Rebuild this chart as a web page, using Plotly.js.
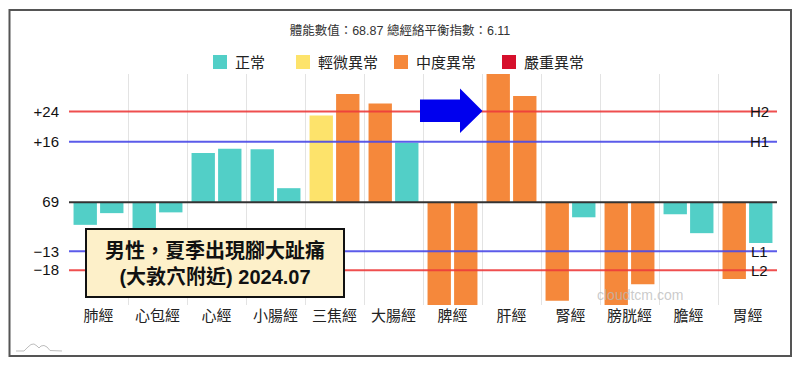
<!DOCTYPE html>
<html>
<head>
<meta charset="utf-8">
<script src="https://cdn.plot.ly/plotly-3.0.1.min.js"></script>
<style>
html,body{margin:0;padding:0;background:#fff;}
#chart{width:800px;height:367px;}
</style>
</head>
<body>
<div id="chart"></div>
<script>
// ---- data ----
const categories = ['肺經','心包經','心經','小腸經','三焦經','大腸經','脾經','肝經','腎經','膀胱經','膽經','胃經'];
const leftValues  = [-6.0, -7.0, 13.0, 14.0, 22.9, 26.1, -27.2, 33.9, -26.1, -27.2, -3.2, -20.3];
const rightValues = [-2.9, -2.7, 14.1,  3.7, 28.6, 15.7, -27.2, 28.1,  -4.0, -21.7, -8.2, -10.8];
const leftLevels  = [0, 0, 0, 0, 1, 2, 2, 2, 2, 2, 0, 2];
const rightLevels = [0, 0, 0, 0, 2, 0, 2, 2, 0, 2, 0, 0];
const levelNames  = ['正常','輕微異常','中度異常','嚴重異常'];
const levelColors = ['#52cfc7','#fde36b','#f5883b','#d6102c'];
const refValues = [24, 16, 0, -13, -18];
const refTicks  = ['+24','+16','69','−13','−18'];
const refNames  = ['H2','H1','','L1','L2'];
const refColors = ['#ee3c3c','#4a4ae8','#333333','#4a4ae8','#ee3c3c'];
const titleText = '體能數值：68.87 總經絡平衡指數：6.11';
const noteText  = '<b>男性，夏季出現腳大趾痛<br>(大敦穴附近) 2024.07</b>';
const watermark = 'cloudtcm.com';

// ---- layout helpers (pixel -> paper) ----
const M = {l:69, r:23, t:74, b:62};
const W = 800, H = 367;
const pw = W - M.l - M.r, ph = H - M.t - M.b;
const px = x => (x - M.l) / pw;
const py = y => (H - M.b - y) / ph;
const FONT = 'Liberation Sans, Noto Sans CJK TC, sans-serif';

const traces = [
  {type:'bar', x:categories, y:leftValues, marker:{color:leftLevels.map(l=>levelColors[l])}, showlegend:false, hoverinfo:'skip'},
  {type:'bar', x:categories, y:rightValues, marker:{color:rightLevels.map(l=>levelColors[l])}, showlegend:false, hoverinfo:'skip'}
];

const shapes = [];
const annotations = [];

// reference lines
refValues.forEach((v,i)=>{
  shapes.push({type:'line', xref:'paper', yref:'y', x0:0, x1:1, y0:v, y1:v,
    line:{color:refColors[i], width: i===2 ? 2 : 2}, layer:'above', opacity: i===2?1:0.9});
  if (refNames[i]) {
    annotations.push({xref:'paper', yref:'y', x:px(759), y:v, text:refNames[i], showarrow:false,
      xanchor:'center', yanchor:'middle', font:{family:FONT, size:15, color:'#111'}});
  }
});

// legend (drawn)
const legendCenters = [220, 303, 401, 509];
levelNames.forEach((n,i)=>{
  const cx = legendCenters[i], cy = 62;
  shapes.push({type:'rect', xref:'paper', yref:'paper', x0:px(cx-7), x1:px(cx+7), y0:py(cy-7), y1:py(cy+7),
    fillcolor:levelColors[i], line:{width:0}});
  annotations.push({xref:'paper', yref:'paper', x:px(cx+13), y:py(cy), text:n, showarrow:false,
    xanchor:'left', yanchor:'middle', font:{family:FONT, size:15, color:'#222'}});
});

// blue arrow
const arrowPts = [[420,99.5],[460,99.5],[460,88.5],[482.5,111],[460,133],[460,122],[420,122]];
shapes.push({type:'path', xref:'paper', yref:'paper', layer:'above',
  path: 'M' + arrowPts.map(p=>px(p[0]).toFixed(5)+','+py(p[1]).toFixed(5)).join(' L') + ' Z',
  fillcolor:'#0000ee', line:{width:0}});

// outer frame
shapes.push({type:'rect', xref:'paper', yref:'paper', x0:px(9.5), x1:px(791), y0:py(10), y1:py(356),
  line:{color:'#555', width:2}, fillcolor:'rgba(0,0,0,0)', layer:'above'});

// small logo at bottom-left
const logoPts = [[16,351],[24,351],[28,347],[31,344.5],[34,344],[37,346],[39,348],[41,346],[44,345.5],[47,347],[50,350.5],[62,351]];
shapes.push({type:'path', xref:'paper', yref:'paper',
  path: 'M' + logoPts.map(p=>px(p[0]).toFixed(5)+','+py(p[1]).toFixed(5)).join(' L'),
  line:{color:'#bdbdbd', width:1}});

// note box
annotations.push({xref:'paper', yref:'paper', x:px(215), y:py(263), text:noteText, showarrow:false,
  xanchor:'center', yanchor:'middle', align:'center', width:250, height:60, borderpad:3, borderwidth:2,
  bordercolor:'#111', bgcolor:'#fdf0c9', font:{family:FONT, size:20, color:'#111'}});

// watermark
annotations.push({xref:'paper', yref:'paper', x:px(640), y:py(295), text:watermark, showarrow:false,
  xanchor:'center', yanchor:'middle', font:{family:FONT, size:14, color:'rgba(185,185,185,0.75)'}});

const layout = {
  width:W, height:H, autosize:false,
  margin:{l:M.l, r:M.r, t:M.t, b:M.b, pad:0},
  paper_bgcolor:'#fff', plot_bgcolor:'#fff',
  barmode:'group', bargap:0.1, bargroupgap:0.12,
  showlegend:false,
  title:{text:titleText, x:0.5, xref:'container', xanchor:'center', y:1-31/H, yref:'container', yanchor:'middle',
    font:{family:FONT, size:12.5, color:'#333'}},
  xaxis:{type:'category', tickson:'boundaries', showgrid:true, gridcolor:'#e3e3e3', gridwidth:1,
    zeroline:false, showline:false, ticks:'outside', ticklen:9, tickcolor:'rgba(0,0,0,0)',
    tickfont:{family:FONT, size:15, color:'#222'}, fixedrange:true},
  yaxis:{range:[-27.2, 33.9], tickvals:refValues, ticktext:refTicks, showgrid:false, zeroline:false,
    showline:false, ticks:'outside', ticklen:6, tickcolor:'rgba(0,0,0,0)',
    tickfont:{family:FONT, size:15, color:'#111'}, fixedrange:true},
  shapes:shapes, annotations:annotations
};

Plotly.newPlot('chart', traces, layout, {staticPlot:true, displayModeBar:false});
</script>
</body>
</html>
